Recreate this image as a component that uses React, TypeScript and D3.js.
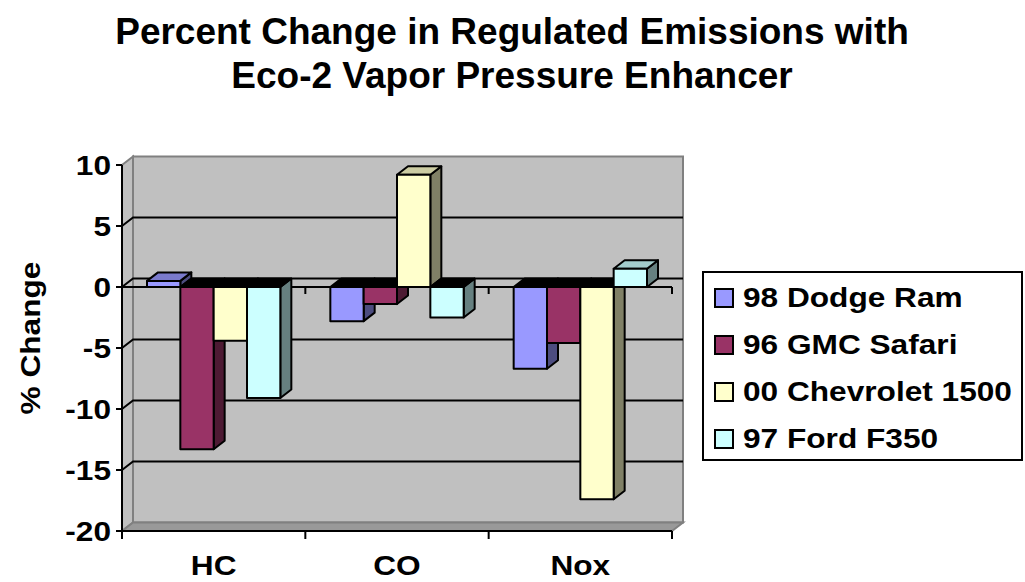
import * as React from "react"
import * as d3 from "d3"

const categories = ["HC", "CO", "Nox"]
const seriesNames = ["98 Dodge Ram", "96 GMC Safari", "00 Chevrolet 1500", "97 Ford F350"]
const dodgeRam = [0.5, -2.8, -6.7]
const gmcSafari = [-13.3, -1.4, -4.6]
const chevrolet = [-4.4, 9.2, -17.4]
const fordF350 = [-9.1, -2.5, 1.5]
const yTicks = [10, 5, 0, -5, -10, -15, -20]

const seriesValues = [dodgeRam, gmcSafari, chevrolet, fordF350]
const frontColors = ["#9999ff", "#993366", "#ffffcc", "#ccffff"]

const W = 1025
const H = 582
const FONT = "'Liberation Sans', Arial, sans-serif"
const SX = 1.13 // glyphs in the source are a bit wider than Arial

// depth offset of the 3d box
const DX = 11
const DY = 8.5

function shade(c: string, k: number) {
  const col = d3.rgb(c)
  return d3.rgb(col.r * k, col.g * k, col.b * k).formatHex()
}

function pts(p: number[][]) {
  return p.map((d) => d.join(",")).join(" ")
}

function Label(props: {
  x: number
  y: number
  size: number
  anchor?: string
  rotate?: number
  stretch?: number
  children: React.ReactNode
}) {
  const { x, y, size, anchor = "middle", rotate = 0, stretch = SX, children } = props
  const tf = rotate
    ? `translate(${x},${y}) rotate(${rotate}) scale(${stretch},1)`
    : `translate(${x},${y}) scale(${stretch},1)`
  return (
    <text
      transform={tf}
      fontFamily={FONT}
      fontWeight="bold"
      fontSize={size}
      textAnchor={anchor}
      fill="#000"
    >
      {children}
    </text>
  )
}

export default function App() {
  const x0 = d3.scaleBand().domain(categories).range([122, 672])
  const x1 = d3
    .scaleBand()
    .domain(seriesNames)
    .range([0, x0.bandwidth()])
    .paddingOuter(0.75)
  const y = d3.scaleLinear().domain([-20, 10]).range([531, 165])

  const left = x0.range()[0]
  const right = x0.range()[1]
  const top = y(10)
  const bottom = y(-20)
  const zero = y(0)
  const bw = x1.bandwidth()
  const boundaries = [left, ...categories.map((c) => (x0(c) as number) + x0.bandwidth())]

  const bars: React.ReactNode[] = []
  categories.forEach((cat, i) => {
    seriesNames.forEach((s, j) => {
      const v = seriesValues[j][i]
      const xl = (x0(cat) as number) + (x1(s) as number)
      const xr = xl + bw
      const yt = y(Math.max(v, 0))
      const yb = y(Math.min(v, 0))
      const c = frontColors[j]
      bars.push(
        <g key={cat + s} stroke="#000" strokeWidth={2} strokeLinejoin="round">
          <polygon
            points={pts([
              [xr, yt],
              [xr + DX, yt - DY],
              [xr + DX, yb - DY],
              [xr, yb],
            ])}
            fill={shade(c, 0.5)}
          />
          <polygon
            points={pts([
              [xl, yt],
              [xr, yt],
              [xr + DX, yt - DY],
              [xl + DX, yt - DY],
            ])}
            fill={v >= 0 ? shade(c, 0.8) : "#000"}
          />
          <rect x={xl} y={yt} width={bw} height={yb - yt} fill={c} />
        </g>
      )
    })
  })

  return (
    <div style={{ position: "fixed", left: 0, top: 0 }}>
      <svg width={W} height={H} style={{ display: "block", background: "#fff" }}>
        <Label x={512} y={44} size={37} stretch={1}>
          Percent Change in Regulated Emissions with
        </Label>
        <Label x={512} y={88} size={37} stretch={1}>
          Eco-2 Vapor Pressure Enhancer
        </Label>

        {/* walls */}
        <rect
          x={left + DX}
          y={top - DY}
          width={right - left}
          height={bottom - top}
          fill="#c0c0c0"
          stroke="#808080"
          strokeWidth={2}
        />
        <polygon
          points={pts([
            [left, top],
            [left + DX, top - DY],
            [left + DX, bottom - DY],
            [left, bottom],
          ])}
          fill="#c0c0c0"
          stroke="#808080"
          strokeWidth={2}
        />
        <polygon
          points={pts([
            [left, bottom],
            [right, bottom],
            [right + DX, bottom - DY],
            [left + DX, bottom - DY],
          ])}
          fill="#999999"
          stroke="#808080"
          strokeWidth={2}
        />

        {/* gridlines */}
        {yTicks
          .filter((t) => t < 10 && t > -20)
          .map((t) => (
            <polyline
              key={t}
              points={pts([
                [left, y(t)],
                [left + DX, y(t) - DY],
                [right + DX, y(t) - DY],
              ])}
              fill="none"
              stroke="#000"
              strokeWidth={2}
            />
          ))}

        {/* category axis at zero */}
        <line x1={left} x2={right} y1={zero} y2={zero} stroke="#000" strokeWidth={2} />
        {boundaries.map((b) => (
          <line key={"z" + b} x1={b} x2={b} y1={zero} y2={zero + 7} stroke="#000" strokeWidth={2} />
        ))}

        {bars}

        {/* value axis */}
        <line x1={left} x2={left} y1={top} y2={bottom} stroke="#000" strokeWidth={2} />
        {yTicks.map((t) => (
          <g key={"t" + t}>
            <line x1={left - 6} x2={left} y1={y(t)} y2={y(t)} stroke="#000" strokeWidth={2} />
            <Label x={111} y={y(t) + 10} size={28} anchor="end">
              {t}
            </Label>
          </g>
        ))}

        {/* bottom category line */}
        <line x1={left} x2={right} y1={bottom} y2={bottom} stroke="#000" strokeWidth={2} />
        {boundaries.map((b) => (
          <line key={"b" + b} x1={b} x2={b} y1={bottom} y2={bottom + 8} stroke="#000" strokeWidth={2} />
        ))}
        {categories.map((c) => (
          <Label key={c} x={(x0(c) as number) + x0.bandwidth() / 2} y={575} size={28}>
            {c}
          </Label>
        ))}

        <Label x={40} y={338} size={28} rotate={-90}>
          % Change
        </Label>

        {/* legend */}
        <rect x={703} y={272} width={319} height={188} fill="#fff" stroke="#000" strokeWidth={2} />
        {seriesNames.map((s, j) => (
          <g key={s}>
            <rect
              x={715}
              y={289 + j * 47}
              width={18}
              height={18}
              fill={frontColors[j]}
              stroke="#000"
              strokeWidth={2}
            />
            <Label x={743} y={307 + j * 47} size={28} anchor="start">
              {s}
            </Label>
          </g>
        ))}
      </svg>
    </div>
  )
}
